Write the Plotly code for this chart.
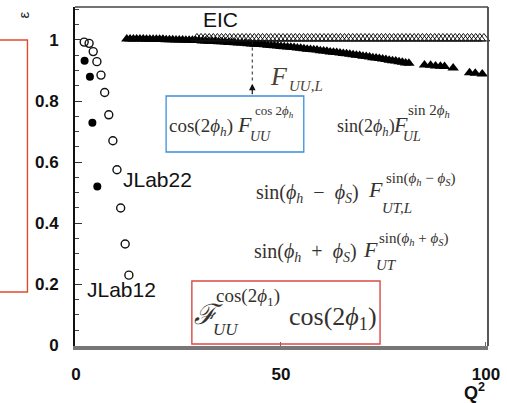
import plotly.graph_objects as go

# ---------------- data ----------------
# JLab 12 GeV (open circles)
jlab12_q2 = [2.0, 3.2, 4.2, 5.1, 6.1, 7.0, 8.0, 9.0, 10.0, 10.9, 12.0, 12.9]
jlab12_eps = [0.993, 0.989, 0.962, 0.929, 0.885, 0.828, 0.755, 0.670, 0.575, 0.450, 0.332, 0.230]

# JLab 22 GeV (filled circles)
jlab22_q2 = [2.1, 3.4, 4.0, 5.2]
jlab22_eps = [0.932, 0.880, 0.729, 0.520]

# EIC, filled triangles
eic_a_q2 = [12.4, 13.2, 14.0, 14.8, 15.6, 16.4, 17.2, 18.0, 18.8, 19.6, 20.4, 21.2,
            22.0, 22.8, 23.6, 24.4, 25.2, 26.0, 26.8, 27.6, 28.4, 29.2, 30.0, 30.8,
            31.6, 32.4, 33.2, 34.0, 34.8, 35.6, 36.4, 37.2, 38.0, 38.8, 39.6, 40.4,
            41.2, 42.0, 42.8, 43.6, 44.4, 45.2, 46.0, 46.8, 47.6, 48.4, 49.2, 50.0,
            50.8, 51.6, 52.4, 53.2, 54.0, 54.8, 55.6, 56.4, 57.2, 58.0, 58.8, 59.6,
            60.4, 61.2, 62.0, 62.8, 63.6, 64.4, 65.2, 66.0, 66.8, 67.6, 68.4, 69.2,
            70.0, 70.8, 71.6, 72.4, 73.2, 74.0, 74.8, 75.6, 76.4, 77.2, 78.0, 78.8,
            79.6, 80.4, 81.2,
            85.0, 86.5, 87.7, 88.9, 89.9, 92.0, 96.0, 97.4, 99.1]
eic_a_eps = [1.003, 1.003, 1.003, 1.003, 1.003, 1.003, 1.002, 1.002, 1.002, 1.002, 1.002, 1.002,
             1.001, 1.001, 1.001, 1.000, 1.000, 1.000, 0.999, 0.999, 0.999, 0.998, 0.998, 0.997,
             0.997, 0.996, 0.996, 0.995, 0.994, 0.994, 0.993, 0.992, 0.992, 0.991, 0.990, 0.990,
             0.989, 0.988, 0.987, 0.986, 0.986, 0.985, 0.984, 0.983, 0.982, 0.981, 0.980, 0.979,
             0.978, 0.977, 0.976, 0.975, 0.974, 0.973, 0.971, 0.970, 0.969, 0.968, 0.967, 0.965,
             0.964, 0.963, 0.961, 0.960, 0.959, 0.957, 0.956, 0.955, 0.953, 0.952, 0.950, 0.949,
             0.947, 0.946, 0.944, 0.942, 0.941, 0.939, 0.938, 0.936, 0.934, 0.932, 0.931, 0.929,
             0.927, 0.925, 0.924,
             0.918, 0.917, 0.915, 0.914, 0.913, 0.908, 0.893, 0.891, 0.889]

# EIC, open triangles
eic_b_q2 = [29.5, 30.5, 31.5, 32.5, 33.5, 34.5, 35.5, 36.5, 37.5, 38.5, 39.5, 40.5,
            41.5, 42.5, 43.5, 44.5, 45.5, 46.5, 47.5, 48.5, 49.5, 50.5, 51.5, 52.5,
            53.5, 54.5, 55.5, 56.5, 57.5, 58.5, 59.5, 60.5, 61.5, 62.5, 63.5, 64.5,
            65.5, 66.5, 67.5, 68.5, 69.5, 70.5, 71.5, 72.5, 73.5, 74.5, 75.5, 76.5,
            77.5, 78.5, 79.5, 80.5, 81.5, 82.5, 83.5, 84.5, 85.5, 86.5, 87.5, 88.5,
            89.5, 90.5, 91.5, 92.5, 93.5, 94.5, 95.5, 96.5, 97.5, 98.5, 99.5]
eic_b_eps = [1.005, 1.005, 1.005, 1.005, 1.005, 1.005, 1.005, 1.005, 1.005, 1.005, 1.005, 1.005,
             1.005, 1.005, 1.005, 1.005, 1.005, 1.005, 1.005, 1.005, 1.005, 1.005, 1.005, 1.005,
             1.005, 1.005, 1.005, 1.005, 1.005, 1.005, 1.005, 1.005, 1.005, 1.005, 1.005, 1.005,
             1.005, 1.005, 1.005, 1.005, 1.005, 1.005, 1.005, 1.005, 1.005, 1.005, 1.005, 1.005,
             1.005, 1.005, 1.005, 1.005, 1.005, 1.005, 1.005, 1.005, 1.005, 1.005, 1.005, 1.005,
             1.005, 1.005, 1.005, 1.005, 1.005, 1.005, 1.005, 1.005, 1.005, 1.005, 1.005]

y_ticks = [0, 0.2, 0.4, 0.6, 0.8, 1.0]
y_tick_text = ["0", "0.2", "0.4", "0.6", "0.8", "1"]
x_ticks = [0, 50, 100]
x_tick_text = ["0", "50", "100"]

# ---------------- geometry ----------------
W, H = 507, 403
ML, MR, MT, MB = 75, 15, 7, 57
PW, PH = W - ML - MR, H - MT - MB


def px(x):
    return (x - ML) / PW


def py(y):
    return (H - MB - y) / PH


SANS = "Liberation Sans, Arial, sans-serif"
SERIF = "Liberation Serif, Times New Roman, DejaVu Serif, serif"
INK = "#35322e"
EN = "\u2002"
QS = "\u2005"

fig = go.Figure()

fig.add_trace(go.Scatter(x=eic_a_q2, y=eic_a_eps, mode="markers", cliponaxis=False,
                         marker=dict(symbol="triangle-up", size=10, color="#000")))
fig.add_trace(go.Scatter(x=eic_b_q2, y=eic_b_eps, mode="markers", cliponaxis=False,
                         marker=dict(symbol="triangle-up-open", size=10, color="#111",
                                     line=dict(width=1))))
fig.add_trace(go.Scatter(x=jlab12_q2, y=jlab12_eps, mode="markers",
                         marker=dict(symbol="circle-open", size=8, color="#111",
                                     line=dict(width=1.4))))
fig.add_trace(go.Scatter(x=jlab22_q2, y=jlab22_eps, mode="markers",
                         marker=dict(symbol="circle", size=8, color="#000")))

ann = []


def note(x, y, text, size, color=INK, family=SERIF, xanchor="left", **kw):
    ann.append(dict(x=px(x), y=py(y), xref="paper", yref="paper", text=text,
                    showarrow=False, xanchor=xanchor, yanchor="middle",
                    font=dict(size=size, color=color, family=family), **kw))


# dataset labels
note(222, 19, "EIC", 21, "#111", SANS, xanchor="center")
note(121, 179, "JLab22", 21, "#111", SANS)
note(85, 289, "JLab12", 21, "#111", SANS)

# axis titles
note(23, 15, "ε", 15, "#222", SANS, xanchor="center", textangle=-90)
note(478, 391, "<b>Q<sup>2</sup></b>", 18, "#111", SANS, xanchor="center")

# F_UU,L with arrow
note(270, 76, "<i>F</i>", 26, "#4e3f31")
note(289, 86, "<i>UU,L</i>", 15, "#4e3f31")

# cos(2phi_h) term
note(168, 127, "cos(2<i>ϕ</i><sub><i>h</i></sub>)", 19)
note(237, 124, "<i>F</i>", 22)
note(255, 111, "cos" + QS + "2<i>ϕ</i><sub><i>h</i></sub>", 13)
note(250, 136, "<i>UU</i>", 14)

# sin(2phi_h) term
note(338, 127, "sin(2<i>ϕ</i><sub><i>h</i></sub>)", 18)
note(394, 124, "<i>F</i>", 22)
note(409, 111, "sin" + QS + "2<i>ϕ</i><sub><i>h</i></sub>", 15)
note(404, 136, "<i>UL</i>", 14)

# sin(phi_h - phi_S) term
note(256, 193, "sin(<i>ϕ</i><sub><i>h</i></sub>" + EN + "−" + EN +
     "<i>ϕ</i><sub><i>S</i></sub>)", 20)
note(369, 190, "<i>F</i>", 22)
note(387, 179, "sin(<i>ϕ</i><sub><i>h</i></sub>" + QS + "−" + QS +
     "<i>ϕ</i><sub><i>S</i></sub>)", 15)
note(383, 208, "<i>UT,L</i>", 15)

# sin(phi_h + phi_S) term
note(254, 252, "sin(<i>ϕ</i><sub><i>h</i></sub>" + EN + "+" + EN +
     "<i>ϕ</i><sub><i>S</i></sub>)", 20)
note(364, 249, "<i>F</i>", 22)
note(380, 239, "sin(<i>ϕ</i><sub><i>h</i></sub>" + QS + "+" + QS +
     "<i>ϕ</i><sub><i>S</i></sub>)", 15)
note(377, 265, "<i>UT</i>", 15)

# cos(2phi_1) term
note(193, 314, "<i>ℱ</i>", 28)
note(215, 297, "cos(2<i>ϕ</i><sub>1</sub>)", 19)
note(212, 329, "<i>UU</i>", 17)
note(289, 318, "cos(2<i>ϕ</i><sub>1</sub>)", 26)

# arrowhead under the F_UU,L dotted line
ann.append(dict(x=43, y=0.857, xref="x", yref="y", ax=0, ay=12, text="",
                showarrow=True, arrowhead=2, arrowsize=1.1, arrowwidth=1.2,
                arrowcolor="#111"))

shapes = [
    # frame, top and right
    dict(type="line", xref="paper", yref="paper", x0=0, y0=1, x1=1, y1=1,
         line=dict(color="#444", width=1.5)),
    dict(type="line", xref="paper", yref="paper", x0=1, y0=0, x1=1, y1=1,
         line=dict(color="#444", width=1.8)),
    # dotted guide to F_UU,L
    dict(type="line", xref="x", yref="y", x0=43, y0=0.995, x1=43, y1=0.86,
         line=dict(color="#222", width=1, dash="dot")),
    # highlight boxes
    dict(type="rect", xref="paper", yref="paper", x0=px(167), y0=py(152), x1=px(306), y1=py(96),
         line=dict(color="#3a8fdc", width=1.3)),
    dict(type="rect", xref="paper", yref="paper", x0=px(193), y0=py(344), x1=px(383), y1=py(281),
         line=dict(color="#d84a48", width=1.4)),
    dict(type="rect", xref="paper", yref="paper", x0=px(-6), y0=py(292), x1=px(27), y1=py(40),
         line=dict(color="#e24a2c", width=1.4)),
]

fig.update_layout(
    width=W, height=H,
    margin=dict(l=ML, r=MR, t=MT, b=MB),
    paper_bgcolor="white", plot_bgcolor="white",
    showlegend=False,
    annotations=ann, shapes=shapes,
    xaxis=dict(range=[-0.24, 100.5], tickvals=x_ticks, ticktext=x_tick_text,
               ticks="inside", ticklen=4, tickwidth=1, tickcolor="#666",
               showline=True, linecolor="#777", linewidth=3.5,
               showgrid=False, zeroline=False, ticklabelstandoff=10,
               tickfont=dict(family=SANS, size=17, color="#111", weight="bold")),
    yaxis=dict(range=[-0.002, 1.108], tickvals=y_ticks, ticktext=y_tick_text,
               ticks="inside", ticklen=7, tickwidth=1.2, tickcolor="#333",
               minor=dict(dtick=0.05, tick0=0, ticks="inside", ticklen=4,
                          tickwidth=1, tickcolor="#444"),
               showline=True, linecolor="#111", linewidth=2,
               showgrid=False, zeroline=False, ticklabelstandoff=11,
               tickfont=dict(family=SANS, size=17, color="#111", weight="bold")),
)

fig.write_html("out.html")
